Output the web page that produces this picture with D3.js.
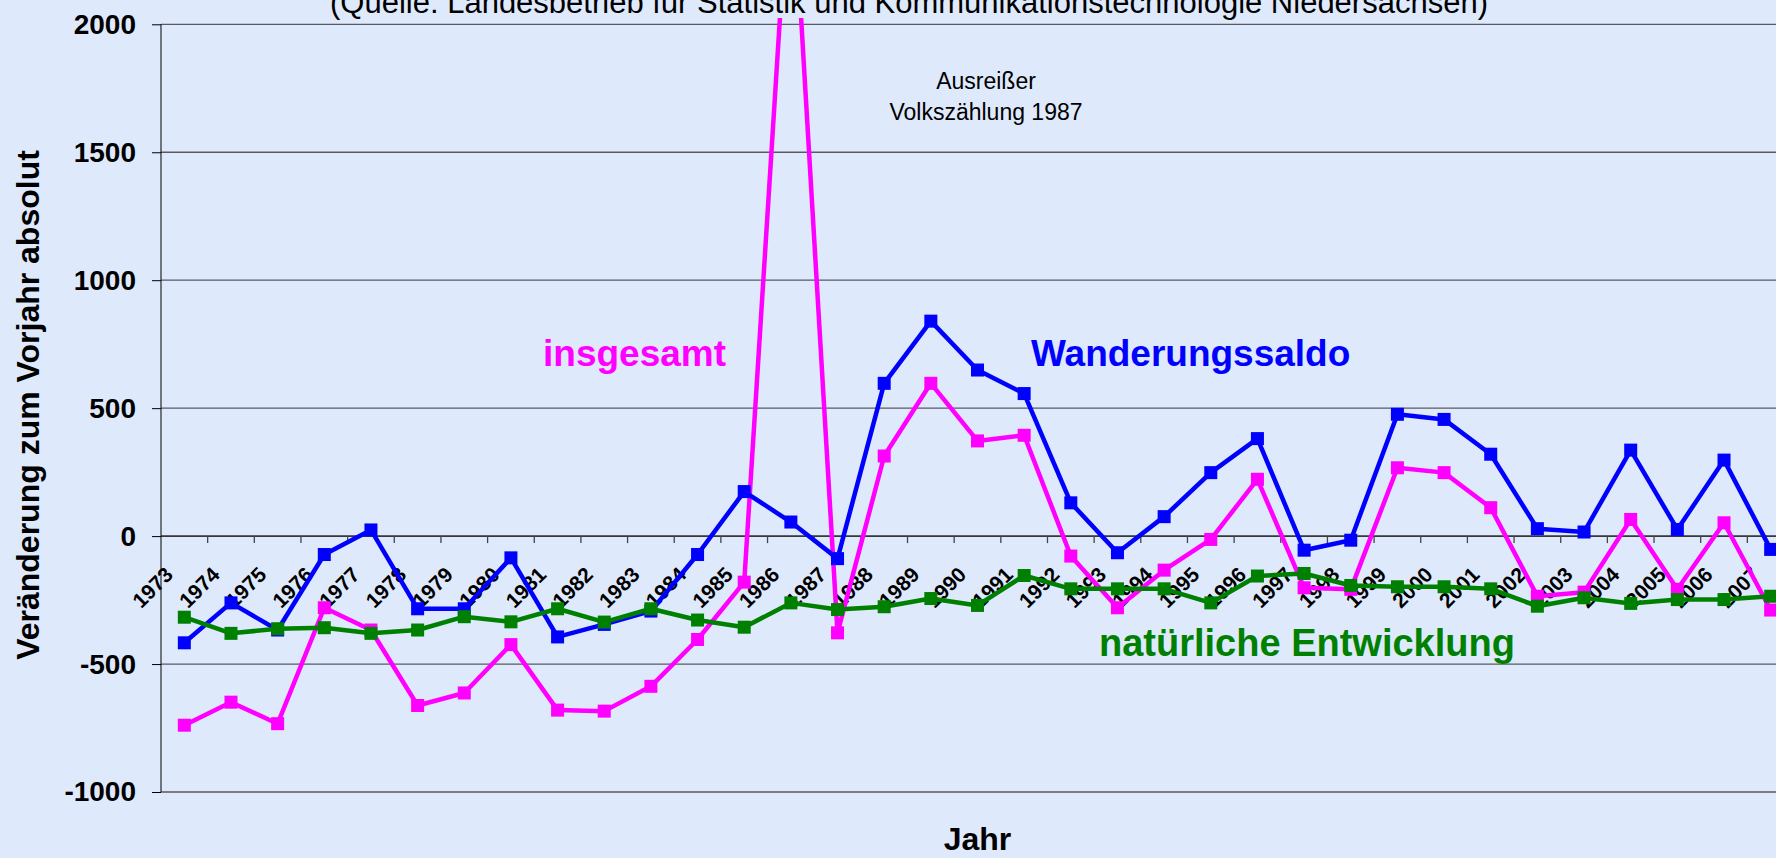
<!DOCTYPE html>
<html>
<head>
<meta charset="utf-8">
<script src="https://cdn.jsdelivr.net/npm/d3@7"></script>
<style>
  html, body { margin: 0; padding: 0; background: #dee9fc; }
  svg { display: block; font-family: 'Liberation Sans', Arial, sans-serif; }
</style>
</head>
<body>
<div id="chart"></div>
<script>
const width = 1776;
const height = 858;

const years = d3.range(1973, 2008).map(String);
const yTicks = [-1000, -500, 0, 500, 1000, 1500, 2000];

const insgesamt = [-739, -649, -733, -280, -367, -662, -613, -424, -680, -684,
  -587, -404, -180, 2700, -378, 313, 597, 372, 394, -78,
  -280, -133, -13, 222, -202, -208, 267, 248, 111, -235,
  -219, 65, -208, 52, -289];
const wanderungssaldo = [-417, -261, -367, -72, 24, -284, -284, -85, -394, -345,
  -293, -72, 174, 55, -88, 597, 840, 649, 557, 130,
  -65, 76, 248, 381, -55, -16, 476, 456, 320, 29,
  16, 336, 26, 297, -52];
const natuerlich = [-317, -380, -362, -358, -380, -367, -315, -335, -284, -336,
  -284, -328, -356, -261, -287, -276, -244, -271, -154, -206,
  -206, -206, -261, -156, -146, -193, -198, -198, -206, -274,
  -241, -263, -248, -248, -235];

const series = [
  { name: 'insgesamt', values: insgesamt, color: '#ff00ff' },
  { name: 'Wanderungssaldo', values: wanderungssaldo, color: '#0000ff' },
  { name: 'natürliche Entwicklung', values: natuerlich, color: '#008000' },
];

const plot = { left: 161, right: 1794, top: 24.3, bottom: 792 };
const markerSize = 13;

const svg = d3.select('#chart').append('svg')
  .attr('width', width)
  .attr('height', height);

svg.append('rect')
  .attr('width', width)
  .attr('height', height)
  .attr('fill', '#dee9fc');

const x = d3.scaleBand().domain(years).range([plot.left, plot.right]);
const y = d3.scaleLinear().domain([-1000, 2000]).range([plot.bottom, plot.top]);
const cx = (i) => x(years[i]) + x.bandwidth() / 2;

// Clip lines at the plot top (the 1986 outlier runs off the chart)
svg.append('defs').append('clipPath').attr('id', 'plotclip')
  .append('rect')
  .attr('x', plot.left)
  .attr('y', 18)
  .attr('width', width)
  .attr('height', height);

// Horizontal gridlines
svg.append('g')
  .selectAll('line')
  .data(yTicks)
  .enter()
  .append('line')
  .attr('x1', plot.left)
  .attr('x2', plot.right)
  .attr('y1', (d) => y(d))
  .attr('y2', (d) => y(d))
  .attr('stroke', '#5a5a62')
  .attr('stroke-width', 1.3);

// Y axis
const yAxis = svg.append('g')
  .attr('transform', `translate(${plot.left},0)`)
  .call(d3.axisLeft(y)
    .tickValues(yTicks)
    .tickFormat((d) => String(d))
    .tickSize(9)
    .tickPadding(16)
    .tickSizeOuter(0));
yAxis.select('.domain').attr('stroke', '#000').attr('d', `M0,${plot.top}V${plot.bottom}`);
yAxis.selectAll('.tick line').attr('stroke', '#000');
yAxis.selectAll('.tick text')
  .style('font-size', '28px')
  .style('font-weight', 'bold')
  .attr('fill', '#000');

// Category axis on the zero line, ticks between years
const x0 = y(0);
svg.append('line')
  .attr('x1', plot.left)
  .attr('x2', plot.right)
  .attr('y1', x0)
  .attr('y2', x0)
  .attr('stroke', '#222')
  .attr('stroke-width', 1.3);

svg.append('g')
  .selectAll('line')
  .data(years.slice(1))
  .enter()
  .append('line')
  .attr('x1', (d) => x(d))
  .attr('x2', (d) => x(d))
  .attr('y1', x0)
  .attr('y2', x0 + 7)
  .attr('stroke', '#444')
  .attr('stroke-width', 1.3);

svg.append('g')
  .selectAll('text')
  .data(years)
  .enter()
  .append('text')
  .attr('transform', (d, i) => `translate(${cx(i) - 10},${x0 + 40}) rotate(-45)`)
  .attr('text-anchor', 'end')
  .style('font-size', '21px')
  .style('font-weight', 'bold')
  .text((d) => d);

// Lines and square markers
const line = d3.line()
  .x((d, i) => cx(i))
  .y((d) => y(d));

const seriesG = svg.append('g').attr('clip-path', 'url(#plotclip)');

series.forEach((s) => {
  const g = seriesG.append('g');
  g.append('path')
    .datum(s.values)
    .attr('d', line)
    .attr('fill', 'none')
    .attr('stroke', s.color)
    .attr('stroke-width', 4.5)
    .attr('stroke-linejoin', 'round');
  g.selectAll('rect')
    .data(s.values)
    .enter()
    .append('rect')
    .attr('x', (d, i) => cx(i) - markerSize / 2)
    .attr('y', (d) => y(d) - markerSize / 2)
    .attr('width', markerSize)
    .attr('height', markerSize)
    .attr('fill', s.color);
});

// Subtitle (cut off at the top edge, as in the source)
svg.append('text')
  .attr('x', 330)
  .attr('y', 13)
  .style('font-size', '31px')
  .text('(Quelle: Landesbetrieb für Statistik und Kommunikationstechnologie Niedersachsen)');

// Outlier note
svg.append('text')
  .attr('x', 986)
  .attr('y', 89)
  .attr('text-anchor', 'middle')
  .style('font-size', '23px')
  .text('Ausreißer');
svg.append('text')
  .attr('x', 986)
  .attr('y', 120)
  .attr('text-anchor', 'middle')
  .style('font-size', '23px')
  .text('Volkszählung 1987');

// Series labels
const seriesLabels = [
  { text: 'insgesamt', x: 543, y: 366, color: '#ff00ff', size: 37 },
  { text: 'Wanderungssaldo', x: 1031, y: 366, color: '#0000ff', size: 37 },
  { text: 'natürliche Entwicklung', x: 1099, y: 656, color: '#008000', size: 38 },
];
svg.append('g')
  .selectAll('text')
  .data(seriesLabels)
  .enter()
  .append('text')
  .attr('x', (d) => d.x)
  .attr('y', (d) => d.y)
  .attr('fill', (d) => d.color)
  .style('font-size', (d) => `${d.size}px`)
  .style('font-weight', 'bold')
  .text((d) => d.text);

// Axis titles
svg.append('text')
  .attr('transform', 'translate(39,405) rotate(-90)')
  .attr('text-anchor', 'middle')
  .style('font-size', '32px')
  .style('font-weight', 'bold')
  .text('Veränderung zum Vorjahr absolut');

svg.append('text')
  .attr('x', (plot.left + plot.right) / 2)
  .attr('y', 850)
  .attr('text-anchor', 'middle')
  .style('font-size', '32px')
  .style('font-weight', 'bold')
  .text('Jahr');
</script>
</body>
</html>
